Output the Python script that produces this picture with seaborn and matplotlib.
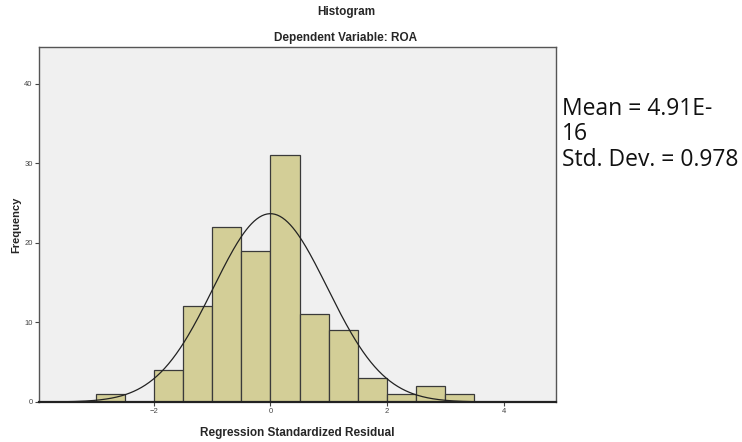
import numpy as np
import pandas as pd
import matplotlib
matplotlib.use("Agg")
import matplotlib.pyplot as plt
import seaborn as sns

# Data
bin_left = [-3.0, -2.5, -2.0, -1.5, -1.0, -0.5, 0.0, 0.5, 1.0, 1.5, 2.0, 2.5, 3.0]
counts = [1, 0, 4, 12, 22, 19, 31, 11, 9, 3, 1, 2, 1]
bin_width = 0.5
mean_val = 4.91e-16
std_val = 0.978
x_ticks = [-2, 0, 2, 4]
y_ticks = [0, 10, 20, 30, 40]

sns.set_style("white")
plt.rcParams['font.family'] = ['Liberation Sans', 'DejaVu Sans']

fig = plt.figure(figsize=(7.42, 4.42), dpi=100)
ax = fig.add_axes([39/742, 40/442, (556-39)/742, (402-47)/442])
ax.set_facecolor("#F0F0F0")

df = pd.DataFrame({"x": [b + bin_width/2 for b in bin_left], "w": counts})
edges = list(bin_left) + [bin_left[-1] + bin_width]
sns.histplot(data=df, x="x", weights="w", bins=edges, ax=ax,
             color="#D3CE97", edgecolor="#3a3a3a", linewidth=0.9, alpha=1.0)

xs = np.linspace(-3.97, 4.9, 400)
n = sum(counts)
ys = n * bin_width / (std_val * np.sqrt(2*np.pi)) * np.exp(-0.5*((xs-mean_val)/std_val)**2)
sns.lineplot(x=xs, y=ys, ax=ax, color="#222222", linewidth=0.9)

ax.set_xlim(-3.97, 4.9)
ax.set_ylim(0, 44.6)
ax.set_xticks(x_ticks)
ax.set_yticks(y_ticks)
ax.tick_params(axis="both", labelsize=5.5, length=3, width=0.8, colors="#444444",
               direction="out", bottom=True, left=True, pad=1.5)
for s in ax.spines.values():
    s.set_color("#555555")
    s.set_linewidth(1.0)
ax.spines["bottom"].set_color("#222222")
ax.spines["bottom"].set_linewidth(1.6)

ax.set_xlabel("Regression Standardized Residual", fontsize=8.5, fontweight="bold")
ax.set_ylabel("Frequency", fontsize=8, fontweight="bold")
ax.xaxis.set_label_coords(0.5, -31/355)
ax.yaxis.set_label_coords(-23/517, 0.5)
ax.xaxis.label.set_va("center")
ax.yaxis.label.set_va("center")

fig.text(346/742, 1-12/442, "Histogram", ha="center", va="center", fontsize=8.5, fontweight="bold")
fig.text(346/742, 1-38/442, "Dependent Variable: ROA", ha="center", va="center", fontsize=8.5, fontweight="bold")

fig.text(562/742, 1-97/442, "Mean = 4.91E-\n16\nStd. Dev. = 0.978", ha="left", va="top",
         fontsize=16.5, linespacing=1.08, color="#111111", family=["Open Sans", "DejaVu Sans"])

fig.savefig("out.png", dpi=100)
